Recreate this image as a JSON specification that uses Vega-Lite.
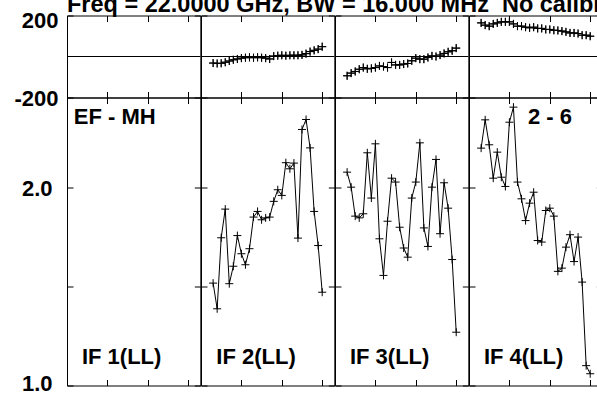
{
"$schema": "https://vega.github.io/schema/vega-lite/v6.json",
"background": "white",
"padding": {"left": 13, "top": -7.5, "right": -4, "bottom": 0},
"title": {"text": "Freq = 22.0000 GHz, BW = 16.000 MHz\u00a0 No calibr", "anchor": "start", "frame": "group", "font": "Liberation Sans", "fontWeight": "bold", "fontSize": 23.5, "color": "black", "offset": -26, "baseline": "alphabetic"},
"config": {
  "view": {"stroke": "black", "strokeWidth": 1},
  "axis": {"tickSize": -6, "tickColor": "black", "tickWidth": 1, "domain": false, "grid": false, "minExtent": 0, "labelFont": "Liberation Sans", "labelFontWeight": "bold", "labelFontSize": 22, "labelColor": "black", "labelOverlap": false, "labelFlush": false, "labelBound": false}
},
"datasets": {"vis": [
{"if":2,"chan":3,"amp":1.431,"phase":-32},{"if":2,"chan":4,"amp":1.308,"phase":-34},{"if":2,"chan":5,"amp":1.677,"phase":-33},{"if":2,"chan":6,"amp":1.854,"phase":-28},{"if":2,"chan":7,"amp":1.428,"phase":-22},{"if":2,"chan":8,"amp":1.518,"phase":-16},{"if":2,"chan":9,"amp":1.690,"phase":-12},{"if":2,"chan":10,"amp":1.586,"phase":-8},{"if":2,"chan":11,"amp":1.526,"phase":-6},{"if":2,"chan":12,"amp":1.614,"phase":-4},{"if":2,"chan":13,"amp":1.803,"phase":-6},{"if":2,"chan":14,"amp":1.839,"phase":-4},{"if":2,"chan":15,"amp":1.786,"phase":-6},{"if":2,"chan":16,"amp":1.798,"phase":-8},{"if":2,"chan":17,"amp":1.803,"phase":-12},{"if":2,"chan":18,"amp":1.905,"phase":2},{"if":2,"chan":19,"amp":1.984,"phase":4},{"if":2,"chan":20,"amp":1.945,"phase":6},{"if":2,"chan":21,"amp":2.181,"phase":4},{"if":2,"chan":22,"amp":2.135,"phase":6},{"if":2,"chan":23,"amp":2.178,"phase":6},{"if":2,"chan":24,"amp":1.675,"phase":6},{"if":2,"chan":25,"amp":2.450,"phase":8},{"if":2,"chan":26,"amp":2.537,"phase":14},{"if":2,"chan":27,"amp":2.297,"phase":24},{"if":2,"chan":28,"amp":1.839,"phase":30},{"if":2,"chan":29,"amp":1.632,"phase":36},{"if":2,"chan":30,"amp":1.386,"phase":48},
{"if":3,"chan":3,"amp":2.110,"phase":-94},{"if":3,"chan":4,"amp":2.002,"phase":-81},{"if":3,"chan":5,"amp":1.809,"phase":-73},{"if":3,"chan":6,"amp":1.798,"phase":-62},{"if":3,"chan":7,"amp":1.824,"phase":-54},{"if":3,"chan":8,"amp":2.258,"phase":-60},{"if":3,"chan":9,"amp":1.927,"phase":-58},{"if":3,"chan":10,"amp":2.330,"phase":-54},{"if":3,"chan":11,"amp":1.671,"phase":-46},{"if":3,"chan":12,"amp":1.470,"phase":-49},{"if":3,"chan":13,"amp":1.777,"phase":-54},{"if":3,"chan":14,"amp":2.066,"phase":-29},{"if":3,"chan":15,"amp":2.038,"phase":-41},{"if":3,"chan":16,"amp":1.740,"phase":-41},{"if":3,"chan":17,"amp":1.618,"phase":-37},{"if":3,"chan":18,"amp":1.567,"phase":-34},{"if":3,"chan":19,"amp":1.927,"phase":-21},{"if":3,"chan":20,"amp":2.038,"phase":-8},{"if":3,"chan":21,"amp":2.338,"phase":-13},{"if":3,"chan":22,"amp":1.736,"phase":-13},{"if":3,"chan":23,"amp":1.627,"phase":-5},{"if":3,"chan":24,"amp":2.002,"phase":3},{"if":3,"chan":25,"amp":2.206,"phase":0},{"if":3,"chan":26,"amp":1.701,"phase":7},{"if":3,"chan":27,"amp":2.033,"phase":15},{"if":3,"chan":28,"amp":1.860,"phase":23},{"if":3,"chan":29,"amp":1.554,"phase":28},{"if":3,"chan":30,"amp":1.205,"phase":41},
{"if":4,"chan":3,"amp":2.295,"phase":164},{"if":4,"chan":4,"amp":2.534,"phase":153},{"if":4,"chan":5,"amp":2.322,"phase":148},{"if":4,"chan":6,"amp":2.066,"phase":159},{"if":4,"chan":7,"amp":2.263,"phase":164},{"if":4,"chan":8,"amp":2.073,"phase":169},{"if":4,"chan":9,"amp":2.007,"phase":169},{"if":4,"chan":10,"amp":2.513,"phase":169},{"if":4,"chan":11,"amp":2.649,"phase":159},{"if":4,"chan":12,"amp":2.038,"phase":148},{"if":4,"chan":13,"amp":1.922,"phase":148},{"if":4,"chan":14,"amp":1.781,"phase":143},{"if":4,"chan":15,"amp":1.893,"phase":140},{"if":4,"chan":16,"amp":1.967,"phase":143},{"if":4,"chan":17,"amp":1.661,"phase":137},{"if":4,"chan":18,"amp":1.652,"phase":137},{"if":4,"chan":19,"amp":1.845,"phase":132},{"if":4,"chan":20,"amp":1.860,"phase":132},{"if":4,"chan":21,"amp":1.809,"phase":128},{"if":4,"chan":22,"amp":1.491,"phase":127},{"if":4,"chan":23,"amp":1.508,"phase":124},{"if":4,"chan":24,"amp":1.623,"phase":120},{"if":4,"chan":25,"amp":1.695,"phase":115},{"if":4,"chan":26,"amp":1.543,"phase":115},{"if":4,"chan":27,"amp":1.681,"phase":112},{"if":4,"chan":28,"amp":1.436,"phase":104},{"if":4,"chan":29,"amp":1.072,"phase":104},{"if":4,"chan":30,"amp":1.042,"phase":99}
]},
"columns": 4,
"spacing": 0,
"bounds": "flush",
"align": "each",
"concat": [
  {"width": 133.33, "height": 82, "resolve": {"axis": {"x": "independent", "y": "independent"}}, "layer": [
   {"data": {"name": "vis"}, "transform": [{"filter": "datum.if == 1"}], "mark": {"type": "point", "shape": "M-1,0H1M0,-1V1", "size": 64, "filled": false, "stroke": "black", "strokeWidth": 1, "opacity": 1},
    "encoding": {"x": {"field": "chan", "type": "quantitative", "scale": {"domain": [0, 33], "nice": false, "zero": false}, "axis": {"orient": "bottom", "values": [10, 20, 30], "labels": false, "title": null}},
                 "y": {"field": "phase", "type": "quantitative", "scale": {"domain": [-200, 200], "nice": false, "zero": false}, "axis": {"orient": "left", "values": [-200, 200], "labels": true, "labelExpr": "'' + datum.value", "labelPadding": 15, "labelOffset": {"condition": {"test": "datum.value == 200", "value": 5}, "value": 1}, "title": null}}}},
   {"data": {"name": "vis"}, "transform": [{"filter": "datum.if == 1"}], "mark": {"type": "point", "shape": "M-1,0H1M0,-1V1", "size": 64, "filled": false, "stroke": "black", "strokeWidth": 1, "opacity": 1},
    "encoding": {"x": {"field": "chan", "type": "quantitative", "axis": {"orient": "top", "values": [10, 20, 30], "labels": false, "title": null}},
                 "y": {"field": "phase", "type": "quantitative", "axis": {"orient": "right", "values": [-200, 200], "labels": false, "title": null}}}},
   {"data": {"values": [{"v": 0}]}, "mark": {"type": "rule", "color": "black", "strokeWidth": 1}, "encoding": {"y": {"field": "v", "type": "quantitative", "axis": null}}}
  ]},
  {"width": 133.33, "height": 82, "resolve": {"axis": {"x": "independent", "y": "independent"}}, "layer": [
   {"data": {"name": "vis"}, "transform": [{"filter": "datum.if == 2"}], "mark": {"type": "point", "shape": "M-1,0H1M0,-1V1", "size": 64, "filled": false, "stroke": "black", "strokeWidth": 1, "opacity": 1},
    "encoding": {"x": {"field": "chan", "type": "quantitative", "scale": {"domain": [0, 33], "nice": false, "zero": false}, "axis": {"orient": "bottom", "values": [10, 20, 30], "labels": false, "title": null}},
                 "y": {"field": "phase", "type": "quantitative", "scale": {"domain": [-200, 200], "nice": false, "zero": false}, "axis": {"orient": "left", "values": [-200, 200], "labels": false, "title": null}}}},
   {"data": {"name": "vis"}, "transform": [{"filter": "datum.if == 2"}], "mark": {"type": "point", "shape": "M-1,0H1M0,-1V1", "size": 64, "filled": false, "stroke": "black", "strokeWidth": 1, "opacity": 1},
    "encoding": {"x": {"field": "chan", "type": "quantitative", "axis": {"orient": "top", "values": [10, 20, 30], "labels": false, "title": null}},
                 "y": {"field": "phase", "type": "quantitative", "axis": {"orient": "right", "values": [-200, 200], "labels": false, "title": null}}}},
   {"data": {"values": [{"v": 0}]}, "mark": {"type": "rule", "color": "black", "strokeWidth": 1}, "encoding": {"y": {"field": "v", "type": "quantitative", "axis": null}}}
  ]},
  {"width": 133.33, "height": 82, "resolve": {"axis": {"x": "independent", "y": "independent"}}, "layer": [
   {"data": {"name": "vis"}, "transform": [{"filter": "datum.if == 3"}], "mark": {"type": "point", "shape": "M-1,0H1M0,-1V1", "size": 64, "filled": false, "stroke": "black", "strokeWidth": 1, "opacity": 1},
    "encoding": {"x": {"field": "chan", "type": "quantitative", "scale": {"domain": [0, 33], "nice": false, "zero": false}, "axis": {"orient": "bottom", "values": [10, 20, 30], "labels": false, "title": null}},
                 "y": {"field": "phase", "type": "quantitative", "scale": {"domain": [-200, 200], "nice": false, "zero": false}, "axis": {"orient": "left", "values": [-200, 200], "labels": false, "title": null}}}},
   {"data": {"name": "vis"}, "transform": [{"filter": "datum.if == 3"}], "mark": {"type": "point", "shape": "M-1,0H1M0,-1V1", "size": 64, "filled": false, "stroke": "black", "strokeWidth": 1, "opacity": 1},
    "encoding": {"x": {"field": "chan", "type": "quantitative", "axis": {"orient": "top", "values": [10, 20, 30], "labels": false, "title": null}},
                 "y": {"field": "phase", "type": "quantitative", "axis": {"orient": "right", "values": [-200, 200], "labels": false, "title": null}}}},
   {"data": {"values": [{"v": 0}]}, "mark": {"type": "rule", "color": "black", "strokeWidth": 1}, "encoding": {"y": {"field": "v", "type": "quantitative", "axis": null}}}
  ]},
  {"width": 133.33, "height": 82, "resolve": {"axis": {"x": "independent", "y": "independent"}}, "layer": [
   {"data": {"name": "vis"}, "transform": [{"filter": "datum.if == 4"}], "mark": {"type": "point", "shape": "M-1,0H1M0,-1V1", "size": 64, "filled": false, "stroke": "black", "strokeWidth": 1, "opacity": 1},
    "encoding": {"x": {"field": "chan", "type": "quantitative", "scale": {"domain": [0, 33], "nice": false, "zero": false}, "axis": {"orient": "bottom", "values": [10, 20, 30], "labels": false, "title": null}},
                 "y": {"field": "phase", "type": "quantitative", "scale": {"domain": [-200, 200], "nice": false, "zero": false}, "axis": {"orient": "left", "values": [-200, 200], "labels": false, "title": null}}}},
   {"data": {"name": "vis"}, "transform": [{"filter": "datum.if == 4"}], "mark": {"type": "point", "shape": "M-1,0H1M0,-1V1", "size": 64, "filled": false, "stroke": "black", "strokeWidth": 1, "opacity": 1},
    "encoding": {"x": {"field": "chan", "type": "quantitative", "axis": {"orient": "top", "values": [10, 20, 30], "labels": false, "title": null}},
                 "y": {"field": "phase", "type": "quantitative", "axis": {"orient": "right", "values": [-200, 200], "labels": false, "title": null}}}},
   {"data": {"values": [{"v": 0}]}, "mark": {"type": "rule", "color": "black", "strokeWidth": 1}, "encoding": {"y": {"field": "v", "type": "quantitative", "axis": null}}}
  ]},
  {"width": 133.33, "height": 288, "resolve": {"axis": {"x": "independent", "y": "independent"}}, "layer": [
   {"data": {"name": "vis"}, "transform": [{"filter": "datum.if == 1"}], "mark": {"type": "line", "color": "black", "strokeWidth": 1},
    "encoding": {"x": {"field": "chan", "type": "quantitative", "scale": {"domain": [0, 33], "nice": false, "zero": false}, "axis": {"orient": "bottom", "values": [10, 20, 30], "labels": false, "title": null}},
                 "y": {"field": "amp", "type": "quantitative", "scale": {"type": "log", "domain": [1, 2.74], "nice": false}, "axis": {"orient": "left", "values": [1, 1.4142, 2], "labels": true, "labelExpr": "datum.value == 1 ? '1.0' : (datum.value == 2 ? '2.0' : '')", "labelPadding": 21, "labelOffset": {"condition": {"test": "datum.value == 1", "value": -2}, "value": 1}, "title": null}}}},
   {"data": {"name": "vis"}, "transform": [{"filter": "datum.if == 1"}], "mark": {"type": "point", "shape": "M-1,0H1M0,-1V1", "size": 64, "filled": false, "stroke": "black", "strokeWidth": 1, "opacity": 1},
    "encoding": {"x": {"field": "chan", "type": "quantitative", "axis": {"orient": "top", "values": [10, 20, 30], "labels": false, "title": null}},
                 "y": {"field": "amp", "type": "quantitative", "axis": {"orient": "right", "values": [1, 1.4142, 2], "labels": false, "title": null}}}},
   {"data": {"values": [{"t": "IF 1(LL)"}]}, "mark": {"type": "text", "align": "left", "baseline": "middle", "font": "Liberation Sans", "fontWeight": "bold", "fontSize": 22, "color": "black"},
    "encoding": {"x": {"datum": 3.7, "type": "quantitative", "axis": null}, "y": {"datum": 1.103, "type": "quantitative", "axis": null}, "text": {"field": "t"}}},
   {"data": {"values": [{"t": "EF - MH"}]}, "mark": {"type": "text", "align": "left", "baseline": "middle", "font": "Liberation Sans", "fontWeight": "bold", "fontSize": 22, "color": "black"},
    "encoding": {"x": {"datum": 1.7, "type": "quantitative", "axis": null}, "y": {"datum": 2.56, "type": "quantitative", "axis": null}, "text": {"field": "t"}}}
  ]},
  {"width": 133.33, "height": 288, "resolve": {"axis": {"x": "independent", "y": "independent"}}, "layer": [
   {"data": {"name": "vis"}, "transform": [{"filter": "datum.if == 2"}], "mark": {"type": "line", "color": "black", "strokeWidth": 1},
    "encoding": {"x": {"field": "chan", "type": "quantitative", "scale": {"domain": [0, 33], "nice": false, "zero": false}, "axis": {"orient": "bottom", "values": [10, 20, 30], "labels": false, "title": null}},
                 "y": {"field": "amp", "type": "quantitative", "scale": {"type": "log", "domain": [1, 2.74], "nice": false}, "axis": {"orient": "left", "values": [1, 1.4142, 2], "labels": false, "title": null}}}},
   {"data": {"name": "vis"}, "transform": [{"filter": "datum.if == 2"}], "mark": {"type": "point", "shape": "M-1,0H1M0,-1V1", "size": 64, "filled": false, "stroke": "black", "strokeWidth": 1, "opacity": 1},
    "encoding": {"x": {"field": "chan", "type": "quantitative", "axis": {"orient": "top", "values": [10, 20, 30], "labels": false, "title": null}},
                 "y": {"field": "amp", "type": "quantitative", "axis": {"orient": "right", "values": [1, 1.4142, 2], "labels": false, "title": null}}}},
   {"data": {"values": [{"t": "IF 2(LL)"}]}, "mark": {"type": "text", "align": "left", "baseline": "middle", "font": "Liberation Sans", "fontWeight": "bold", "fontSize": 22, "color": "black"},
    "encoding": {"x": {"datum": 3.8, "type": "quantitative", "axis": null}, "y": {"datum": 1.103, "type": "quantitative", "axis": null}, "text": {"field": "t"}}}
  ]},
  {"width": 133.33, "height": 288, "resolve": {"axis": {"x": "independent", "y": "independent"}}, "layer": [
   {"data": {"name": "vis"}, "transform": [{"filter": "datum.if == 3"}], "mark": {"type": "line", "color": "black", "strokeWidth": 1},
    "encoding": {"x": {"field": "chan", "type": "quantitative", "scale": {"domain": [0, 33], "nice": false, "zero": false}, "axis": {"orient": "bottom", "values": [10, 20, 30], "labels": false, "title": null}},
                 "y": {"field": "amp", "type": "quantitative", "scale": {"type": "log", "domain": [1, 2.74], "nice": false}, "axis": {"orient": "left", "values": [1, 1.4142, 2], "labels": false, "title": null}}}},
   {"data": {"name": "vis"}, "transform": [{"filter": "datum.if == 3"}], "mark": {"type": "point", "shape": "M-1,0H1M0,-1V1", "size": 64, "filled": false, "stroke": "black", "strokeWidth": 1, "opacity": 1},
    "encoding": {"x": {"field": "chan", "type": "quantitative", "axis": {"orient": "top", "values": [10, 20, 30], "labels": false, "title": null}},
                 "y": {"field": "amp", "type": "quantitative", "axis": {"orient": "right", "values": [1, 1.4142, 2], "labels": false, "title": null}}}},
   {"data": {"values": [{"t": "IF 3(LL)"}]}, "mark": {"type": "text", "align": "left", "baseline": "middle", "font": "Liberation Sans", "fontWeight": "bold", "fontSize": 22, "color": "black"},
    "encoding": {"x": {"datum": 3.7, "type": "quantitative", "axis": null}, "y": {"datum": 1.103, "type": "quantitative", "axis": null}, "text": {"field": "t"}}}
  ]},
  {"width": 133.33, "height": 288, "resolve": {"axis": {"x": "independent", "y": "independent"}}, "layer": [
   {"data": {"name": "vis"}, "transform": [{"filter": "datum.if == 4"}], "mark": {"type": "line", "color": "black", "strokeWidth": 1},
    "encoding": {"x": {"field": "chan", "type": "quantitative", "scale": {"domain": [0, 33], "nice": false, "zero": false}, "axis": {"orient": "bottom", "values": [10, 20, 30], "labels": false, "title": null}},
                 "y": {"field": "amp", "type": "quantitative", "scale": {"type": "log", "domain": [1, 2.74], "nice": false}, "axis": {"orient": "left", "values": [1, 1.4142, 2], "labels": false, "title": null}}}},
   {"data": {"name": "vis"}, "transform": [{"filter": "datum.if == 4"}], "mark": {"type": "point", "shape": "M-1,0H1M0,-1V1", "size": 64, "filled": false, "stroke": "black", "strokeWidth": 1, "opacity": 1},
    "encoding": {"x": {"field": "chan", "type": "quantitative", "axis": {"orient": "top", "values": [10, 20, 30], "labels": false, "title": null}},
                 "y": {"field": "amp", "type": "quantitative", "axis": {"orient": "right", "values": [1, 1.4142, 2], "labels": false, "title": null}}}},
   {"data": {"values": [{"t": "IF 4(LL)"}]}, "mark": {"type": "text", "align": "left", "baseline": "middle", "font": "Liberation Sans", "fontWeight": "bold", "fontSize": 22, "color": "black"},
    "encoding": {"x": {"datum": 3.7, "type": "quantitative", "axis": null}, "y": {"datum": 1.103, "type": "quantitative", "axis": null}, "text": {"field": "t"}}},
   {"data": {"values": [{"t": "2 - 6"}]}, "mark": {"type": "text", "align": "left", "baseline": "middle", "font": "Liberation Sans", "fontWeight": "bold", "fontSize": 22, "color": "black"},
    "encoding": {"x": {"datum": 14.6, "type": "quantitative", "axis": null}, "y": {"datum": 2.56, "type": "quantitative", "axis": null}, "text": {"field": "t"}}}
  ]}
]
}
